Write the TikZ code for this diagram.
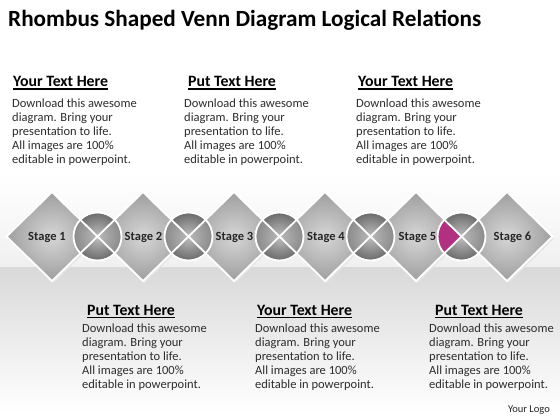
\documentclass[tikz,border=0pt]{standalone}
\usepackage{fontspec}
\setmainfont{Carlito}
\definecolor{magentasec}{RGB}{178,48,128}
\definecolor{bodytext}{RGB}{45,45,45}
\begin{document}
\begin{tikzpicture}[x=1pt,y=-1pt,
  headtext/.style={font=\fontsize{15.8}{18}\selectfont\bfseries, text=black, anchor=base west, inner sep=0pt},
  bodyblock/.style={font=\fontsize{12.5}{14.2}\selectfont, text=bodytext, align=left, anchor=base west, inner sep=0pt},
  stagelabel/.style={font=\fontsize{12.5}{15}\selectfont\bfseries, text=black!85, inner sep=0pt},
  rhfill/.style={inner color=black!16, outer color=black!38},
  cifill/.style={inner color=black!25, outer color=black!58},
  edge/.style={draw=white, line width=1.8pt, line join=miter},
  ulbar/.style={fill=black}
]
\useasboundingbox (0,0) rectangle (560,420);
% background
\fill[white] (0,0) rectangle (560,420);
\shade[top color=white, bottom color=black!6] (0,175) rectangle (560,267);
\shade[top color=black!15, bottom color=white] (0,267) rectangle (560,412);

% coordinates
\foreach \i in {0,...,5} { \coordinate (r\i) at ({52+91*\i},236.5); }
\foreach \i in {0,...,4} { \coordinate (c\i) at ({97.5+91*\i},236.5); }

% shadows
\foreach \i in {0,...,5} {
  \fill[black!10] ([shift={(1.5,2)}]r\i) ++(-45.5,0) -- ++(45.5,-44.5) -- ++(45.5,44.5) -- ++(-45.5,44.5) -- cycle;
}
% rhombus fills
\foreach \i in {0,...,5} {
  \shade[rhfill] (r\i) ++(-45.5,0) -- ++(45.5,-44.5) -- ++(45.5,44.5) -- ++(-45.5,44.5) -- cycle;
}
% circle fills
\foreach \i in {0,...,4} {
  \shade[cifill] (c\i) circle (24);
  \fill[black!30, opacity=0.45] (c\i) -- ++(135:24) arc (135:225:24) -- cycle;
  \fill[black!30, opacity=0.45] (c\i) -- ++(-45:24) arc (-45:45:24) -- cycle;
}
% highlighted sector
\fill[magentasec] (c4) -- ++(135:24) arc (135:225:24) -- cycle;

% outlines
\foreach \i in {0,...,5} {
  \draw[edge] (r\i) ++(-45.5,0) -- ++(45.5,-44.5) -- ++(45.5,44.5) -- ++(-45.5,44.5) -- cycle;
}
\foreach \i in {0,...,4} {
  \draw[edge] (c\i) circle (24);
}

% stage labels
\node[stagelabel] (s1) at (47,237) {Stage 1};
\node[stagelabel] (s2) at (143.5,237) {Stage 2};
\node[stagelabel] (s3) at (234.5,237) {Stage 3};
\node[stagelabel] (s4) at (326,237) {Stage 4};
\node[stagelabel] (s5) at (417.5,237) {Stage 5};
\node[stagelabel] (s6) at (512.5,237) {Stage 6};

% title
\node[font=\fontsize{23.2}{27}\selectfont\bfseries, anchor=base west, inner sep=0pt] (title) at (8,26.5) {Rhombus Shaped Venn Diagram Logical Relations};

% top blocks (base = last line baseline)
\node[headtext] (h1) at (13,86.5) {Your Text Here};
\node[bodyblock] (b1) at (12,163.8) {Download this awesome\\diagram. Bring your\\presentation to life.\\All images are 100\%\\editable in powerpoint.};
\node[headtext] (h2) at (188,86.5) {Put Text Here};
\node[bodyblock] (b2) at (184,163.8) {Download this awesome\\diagram. Bring your\\presentation to life.\\All images are 100\%\\editable in powerpoint.};
\node[headtext] (h3) at (358,86.5) {Your Text Here};
\node[bodyblock] (b3) at (356,163.8) {Download this awesome\\diagram. Bring your\\presentation to life.\\All images are 100\%\\editable in powerpoint.};

% bottom blocks
\node[headtext] (h4) at (87,315) {Put Text Here};
\node[bodyblock] (b4) at (82,388.8) {Download this awesome\\diagram. Bring your\\presentation to life.\\All images are 100\%\\editable in powerpoint.};
\node[headtext] (h5) at (257,315) {Your Text Here};
\node[bodyblock] (b5) at (255,388.8) {Download this awesome\\diagram. Bring your\\presentation to life.\\All images are 100\%\\editable in powerpoint.};
\node[headtext] (h6) at (435,315) {Put Text Here};
\node[bodyblock] (b6) at (429,388.8) {Download this awesome\\diagram. Bring your\\presentation to life.\\All images are 100\%\\editable in powerpoint.};

% heading underlines
\foreach \h in {h1,h2,h3,h4,h5,h6} {
  \fill[ulbar] ([yshift=-1.6pt]\h.base west) rectangle ([yshift=-3.2pt]\h.base east);
}

% logo
\node[font=\fontsize{10.5}{12}\selectfont, text=black!85, anchor=base east, inner sep=0pt] (logo) at (550,412) {Your Logo};
\end{tikzpicture}
\end{document}
